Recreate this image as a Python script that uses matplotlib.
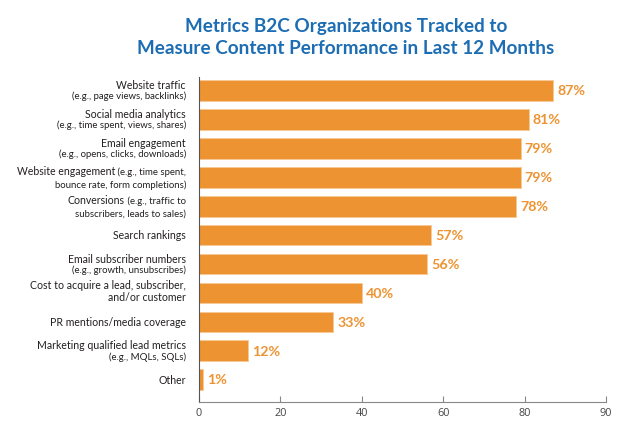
import matplotlib
matplotlib.use("Agg")
import matplotlib.pyplot as plt

# data
line1 = ["Website traffic", "Social media analytics", "Email engagement",
         "Website engagement", "Conversions", "Search rankings",
         "Email subscriber numbers", "Cost to acquire a lead, subscriber,",
         "PR mentions/media coverage", "Marketing qualified lead metrics", "Other"]
line1_note = ["", "", "", " (e.g., time spent,", " (e.g., traffic to",
              "", "", "", "", "", ""]
line2 = ["(e.g., page views, backlinks)", "(e.g., time spent, views, shares)",
         "(e.g., opens, clicks, downloads)", "bounce rate, form completions)",
         "subscribers, leads to sales)", "", "(e.g., growth, unsubscribes)",
         "and/or customer", "", "(e.g., MQLs, SQLs)", ""]
line2_big = [False, False, False, False, False, False, False, True, False, False, False]
values = [87, 81, 79, 79, 78, 57, 56, 40, 33, 12, 1]
# the last tick of the original sits at the axis end but reads "90"
xtick_pos = [0, 20, 40, 60, 80, 100]
xtick_labels = ["0", "20", "40", "60", "80", "90"]

ORANGE = "#EE9331"
BLUE = "#1C6DB3"
TXT = "#231F20"
BIG = 7.6
SMALL = 6.9

plt.rcParams["font.family"] = ["Lato", "DejaVu Sans"]

fig = plt.figure(figsize=(6.2, 4.25), dpi=100)
ax = fig.add_axes([199/620, 1-402/425, 407/620, (402-77)/425])

ypos = list(range(len(values)))
ax.barh(ypos, values, height=0.716, color=ORANGE, edgecolor="#F7C896", linewidth=0.6)
for y, v in zip(ypos, values):
    ax.annotate(f"{v}%", xy=(v, y), xytext=(3.0, -0.5), textcoords="offset points",
                ha="left", va="center", fontsize=10.3, fontweight="bold", color=ORANGE)

ax.set_xlim(0, 100)
ax.set_ylim(len(values) - 1 + 0.77, -0.467)
ax.set_xticks(xtick_pos)
ax.set_xticklabels(xtick_labels)
ax.set_yticks([])
ax.tick_params(axis="x", direction="in", length=4, width=0.8, color="#888888",
               labelsize=7.8, labelcolor="#444444", pad=4.5)
for lab in ax.get_xticklabels():
    lab.set_family(["Open Sans", "DejaVu Sans"])
for s in ["top", "right"]:
    ax.spines[s].set_visible(False)
ax.spines["bottom"].set_color("#888888")
ax.spines["bottom"].set_linewidth(0.8)
ax.spines["left"].set_color("#555555")
ax.spines["left"].set_linewidth(0.8)

# category labels, right aligned next to the axis
XOFF = -9.4
for i in ypos:
    if line2[i] == "":
        y1, y2 = -3.0, 0
    elif line2_big[i]:
        y1, y2 = 2.6, -5.8
    elif line1_note[i]:
        y1, y2 = 1.3, -7.7
    else:
        y1, y2 = 1.1, -6.3
    if line1_note[i]:
        note = ax.annotate(line1_note[i], xy=(0, i), xycoords=("axes fraction", "data"),
                           xytext=(XOFF, y1), textcoords="offset points",
                           ha="right", va="baseline", fontsize=SMALL, color=TXT)
        ax.annotate(line1[i], xy=(0, i), xycoords=(note, "data"),
                    xytext=(0, y1), textcoords="offset points",
                    ha="right", va="baseline", fontsize=BIG, color=TXT)
    else:
        ax.annotate(line1[i], xy=(0, i), xycoords=("axes fraction", "data"),
                    xytext=(XOFF, y1), textcoords="offset points",
                    ha="right", va="baseline", fontsize=BIG, color=TXT)
    if line2[i]:
        ax.annotate(line2[i], xy=(0, i), xycoords=("axes fraction", "data"),
                    xytext=(XOFF, y2), textcoords="offset points",
                    ha="right", va="baseline",
                    fontsize=BIG if line2_big[i] else SMALL, color=TXT)

fig.text(0.558, 1-31.7/425, "Metrics B2C Organizations Tracked to", ha="center", va="baseline",
         fontsize=13.6, fontweight="bold", color=BLUE)
fig.text(0.558, 1-53.5/425, "Measure Content Performance in Last 12 Months", ha="center", va="baseline",
         fontsize=13.6, fontweight="bold", color=BLUE)

fig.savefig("out.png", dpi=100)
